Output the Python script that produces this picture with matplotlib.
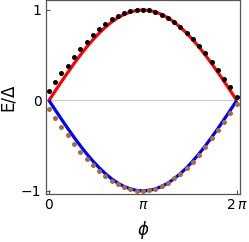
import numpy as np
import matplotlib
matplotlib.use("Agg")
import matplotlib.pyplot as plt

# phase samples (31 points from 0 to 2pi)
phi_dots = np.linspace(0, 2 * np.pi, 31)

black_vals = [0.105, 0.20, 0.30, 0.385, 0.48, 0.566, 0.643, 0.724, 0.787, 0.842,
              0.897, 0.934, 0.963, 0.989, 1.0, 1.003, 1.0, 0.978, 0.948, 0.912,
              0.864, 0.816, 0.746, 0.676, 0.602, 0.521, 0.429, 0.337, 0.238, 0.146,
              0.042]
brown_vals = [-0.097, -0.19, -0.29, -0.385, -0.477, -0.566, -0.643, -0.713, -0.783, -0.838,
              -0.89, -0.926, -0.959, -0.981, -0.997, -1.0, -0.992, -0.975, -0.948, -0.912,
              -0.86, -0.812, -0.749, -0.676, -0.599, -0.514, -0.418, -0.326, -0.236, -0.138,
              -0.039]

# theory curves (31 samples)
red_vals = [0.0, 0.105, 0.208, 0.309, 0.407, 0.5, 0.588, 0.669, 0.743, 0.809,
            0.866, 0.914, 0.951, 0.978, 0.995, 1.0, 0.995, 0.978, 0.951, 0.914,
            0.866, 0.809, 0.743, 0.669, 0.588, 0.5, 0.407, 0.309, 0.208, 0.105,
            0.0]
blue_vals = [-v for v in red_vals]

xtick_pos = [0, np.pi, 2 * np.pi]
xtick_labels = ["0", r"$\pi$", r"$2\,\pi$"]
ytick_pos = [-1, 0, 1]
ytick_labels = ["\u22121", "0", "1"]

fig = plt.figure(figsize=(2.49, 2.42), dpi=100)
ax = fig.add_axes([0.1835, 0.2, 0.7805, 0.798])

ax.axhline(0, color="#cccccc", lw=0.8, zorder=1)
ax.plot(phi_dots, red_vals, color="#ff0000", lw=2.3, zorder=2, solid_capstyle="butt")
ax.plot(phi_dots, blue_vals, color="#0000ff", lw=2.3, zorder=2, solid_capstyle="butt")
ax.plot(phi_dots, black_vals, "o", color="black", ms=3.6, mew=0, zorder=3)
ax.plot(phi_dots, brown_vals, "o", color="#a0703e", ms=3.6, mew=0, zorder=3)

ax.set_xlim(-0.11, 2 * np.pi + 0.11)
ax.set_ylim(-1.03, 1.105)

ax.set_xticks(xtick_pos)
ax.set_xticklabels(xtick_labels)
ax.set_yticks(ytick_pos)
ax.set_yticklabels(ytick_labels)
ax.tick_params(direction="in", length=3, width=0.8, color="#555555",
               labelsize=10, pad=3)
for s in ax.spines.values():
    s.set_color("#555555")
    s.set_linewidth(0.9)

ax.set_ylabel("E/\u0394", fontsize=12, labelpad=3)
ax.set_xlabel(r"$\phi$", fontsize=12, labelpad=5)

fig.savefig("out.png", dpi=100)
